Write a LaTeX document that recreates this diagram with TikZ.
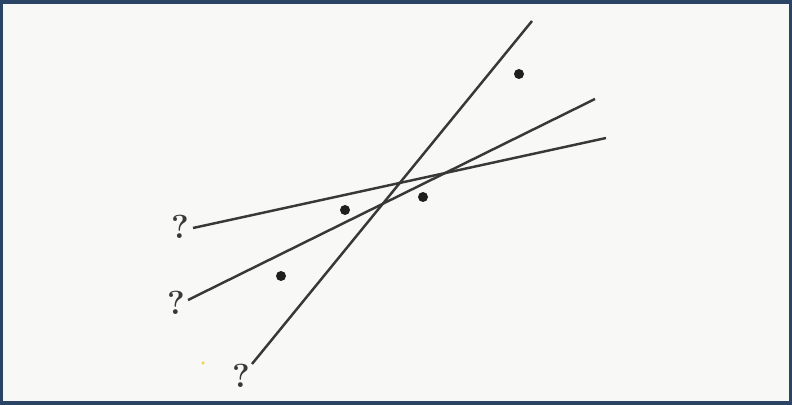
\documentclass[tikz,border=0pt]{standalone}
\usetikzlibrary{positioning,calc}
\definecolor{frame}{HTML}{2B4466}
\definecolor{paper}{HTML}{F8F9F6}
\definecolor{ink}{HTML}{383838}
\definecolor{spot}{HTML}{F2D046}
\begin{document}
\begin{tikzpicture}[x=0.02cm, y=-0.02cm,
  dot/.style={circle, fill=black!88, inner sep=0pt, minimum size=0.2cm},
  qmark/.style={inner sep=0pt, text=ink, font=\fontsize{19}{19}\selectfont\bfseries},
  fitline/.style={draw=ink, line width=1.4pt}]
% 背景
\fill[frame] (0,0) rectangle (792,405);
\fill[paper] (3,4) rectangle (789,401);
% 数据点
\node[dot] (p1) at (519,74) {};
\node[dot] (p2) at (345,210) {};
\node[dot] (p3) at (423,197) {};
\node[dot] (p4) at (281,276) {};
\node[circle, fill=spot, inner sep=0pt, minimum size=0.07cm] (cursor) at (203,363) {};
% 问号
\node[qmark] (qa) at (180,227) {?};
\node[qmark] (qb) at (176,303) {?};
\node[qmark] (qc) at (241,376) {?};
% 直线
\coordinate (a0) at (193,228); \coordinate (a1) at (606,138);
\coordinate (b0) at (188,300); \coordinate (b1) at (595,99);
\coordinate (c0) at (252,364); \coordinate (c1) at (532,21);
\draw[fitline] (a0) -- (a1);
\draw[fitline] (b0) -- (b1);
\draw[fitline] (c0) -- (c1);
\end{tikzpicture}
\end{document}
